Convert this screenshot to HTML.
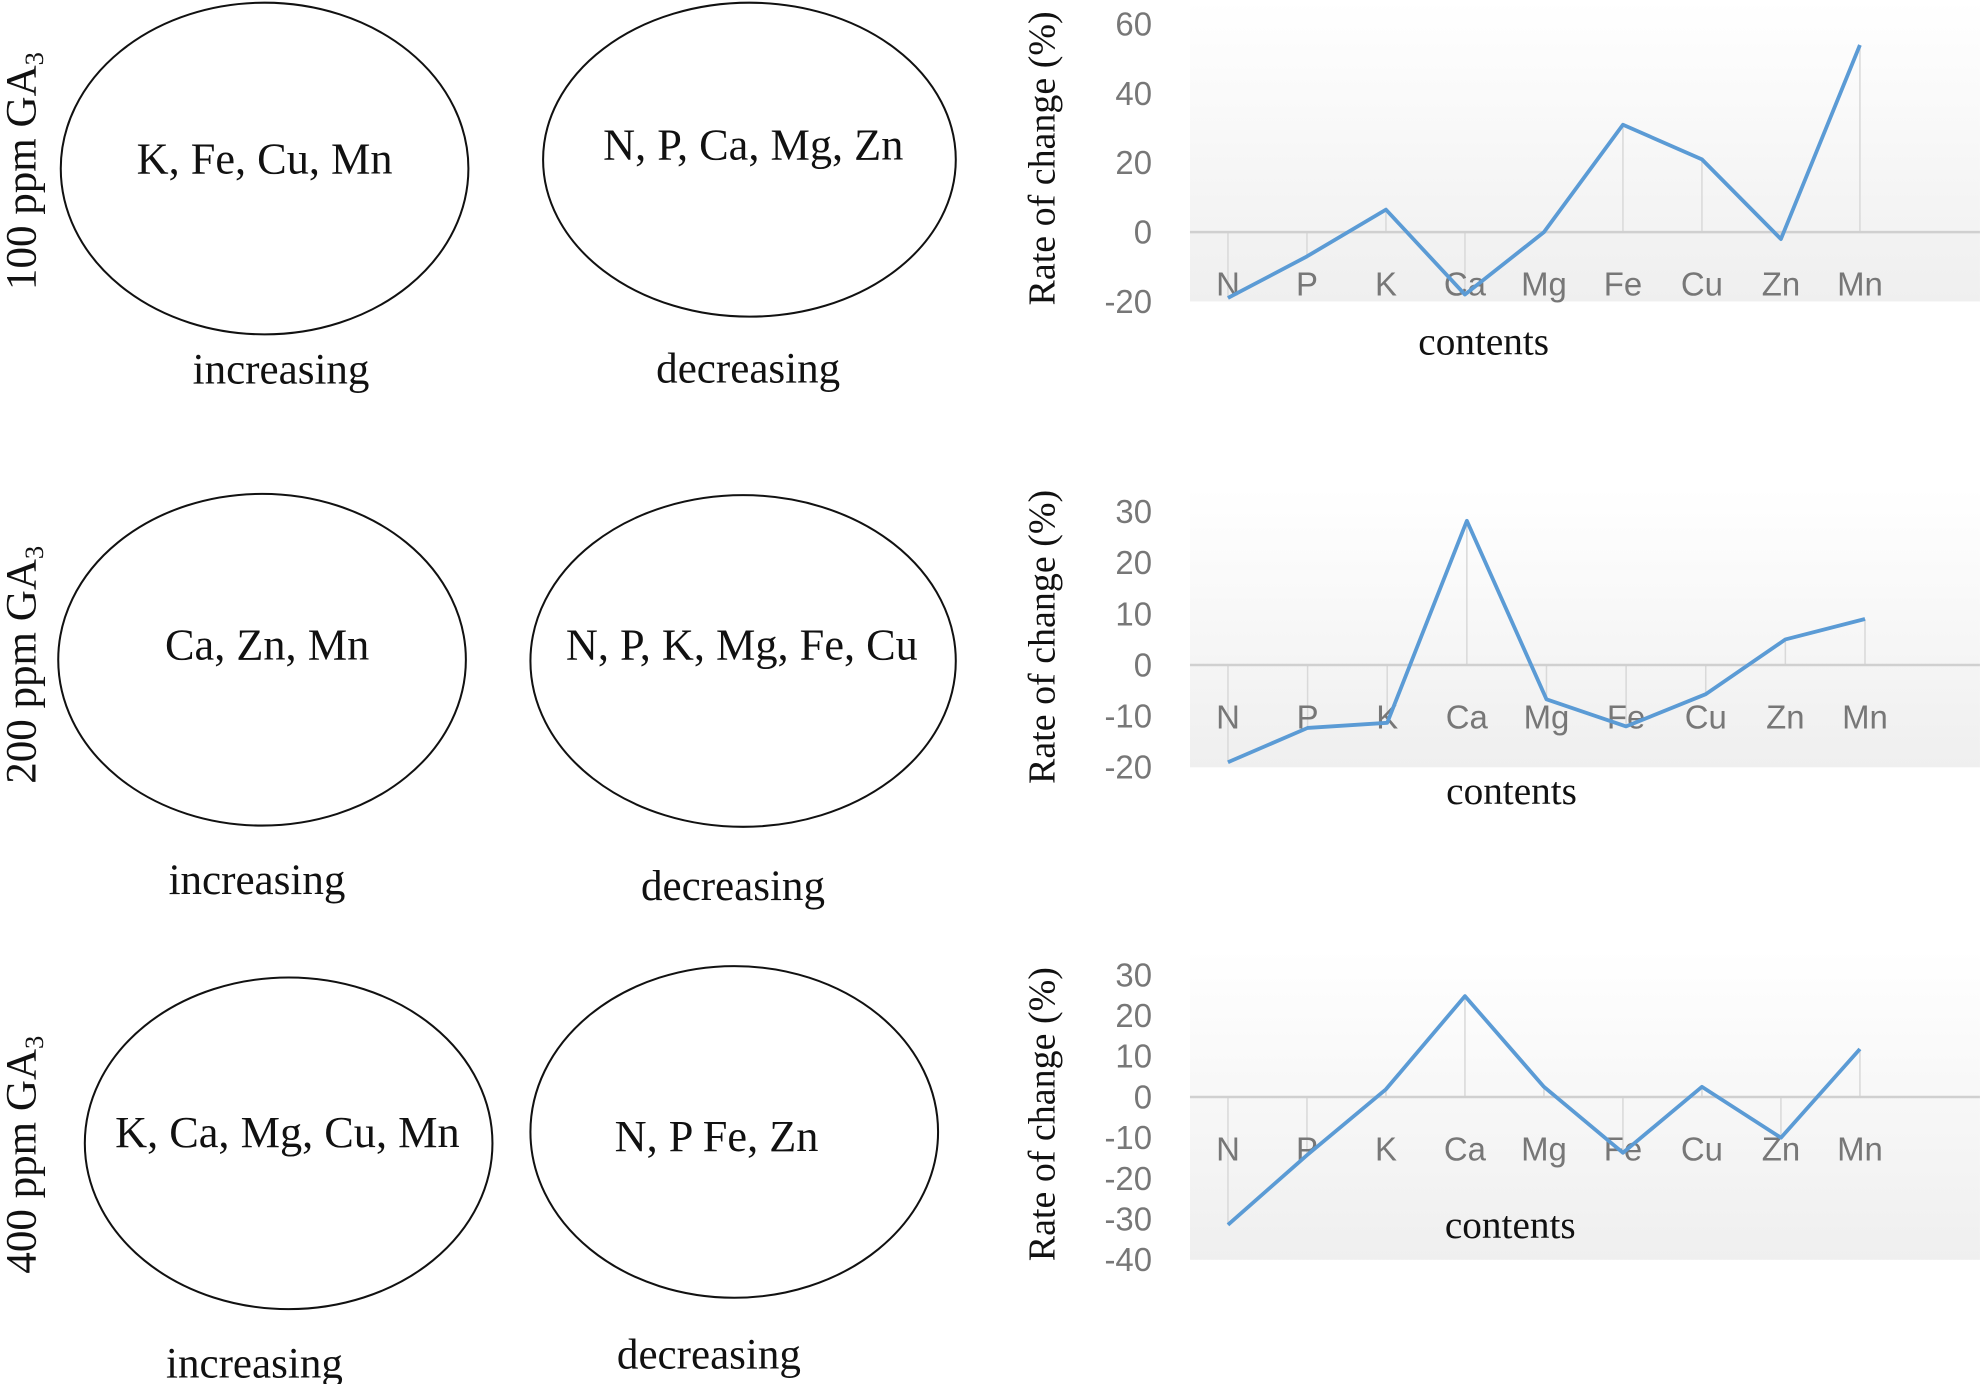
<!DOCTYPE html>
<html><head><meta charset="utf-8"><style>
html,body{margin:0;padding:0;background:#fff;}
svg{display:block;}
.serif{font-family:"Liberation Serif",serif;fill:#111;}
.tick{font-family:"Liberation Sans",sans-serif;fill:#777;font-size:26px;}
</style></head><body>
<svg id="root" width="1985" height="1384" viewBox="0 0 1568 1093" xmlns="http://www.w3.org/2000/svg">
<defs>
<linearGradient id="bg" x1="0" y1="0" x2="0" y2="1">
<stop offset="0" stop-color="#ffffff"/><stop offset="1" stop-color="#efefef"/>
</linearGradient>
</defs>
<g>
<text class="serif" font-size="34" transform="translate(28,135) rotate(-90)" text-anchor="middle">100 ppm GA<tspan font-size="21" dy="6">3</tspan></text>
<ellipse cx="209" cy="133" rx="161" ry="131" fill="none" stroke="#111" stroke-width="1.6"/>
<text class="serif" font-size="35" x="209" y="137" text-anchor="middle">K, Fe, Cu, Mn</text>
<text class="serif" font-size="34" x="222" y="303" text-anchor="middle">increasing</text>
<ellipse cx="592" cy="126" rx="163" ry="124" fill="none" stroke="#111" stroke-width="1.6"/>
<text class="serif" font-size="35" x="595" y="126" text-anchor="middle">N, P, Ca, Mg, Zn</text>
<text class="serif" font-size="34" x="591" y="302" text-anchor="middle">decreasing</text>
</g>
<g>
<text class="serif" font-size="34" transform="translate(28,525) rotate(-90)" text-anchor="middle">200 ppm GA<tspan font-size="21" dy="6">3</tspan></text>
<ellipse cx="207" cy="521" rx="161" ry="131" fill="none" stroke="#111" stroke-width="1.6"/>
<text class="serif" font-size="35" x="211" y="521" text-anchor="middle">Ca, Zn, Mn</text>
<text class="serif" font-size="34" x="203" y="706" text-anchor="middle">increasing</text>
<ellipse cx="587" cy="522" rx="168" ry="131" fill="none" stroke="#111" stroke-width="1.6"/>
<text class="serif" font-size="35" x="586" y="521" text-anchor="middle">N, P, K, Mg, Fe, Cu</text>
<text class="serif" font-size="34" x="579" y="711" text-anchor="middle">decreasing</text>
</g>
<g>
<text class="serif" font-size="34" transform="translate(28,912) rotate(-90)" text-anchor="middle">400 ppm GA<tspan font-size="21" dy="6">3</tspan></text>
<ellipse cx="228" cy="903" rx="161" ry="131" fill="none" stroke="#111" stroke-width="1.6"/>
<text class="serif" font-size="35" x="227" y="906" text-anchor="middle">K, Ca, Mg, Cu, Mn</text>
<text class="serif" font-size="34" x="201" y="1088" text-anchor="middle">increasing</text>
<ellipse cx="580" cy="894" rx="161" ry="131" fill="none" stroke="#111" stroke-width="1.6"/>
<text class="serif" font-size="35" x="566" y="909" text-anchor="middle">N, P Fe, Zn</text>
<text class="serif" font-size="34" x="560" y="1081" text-anchor="middle">decreasing</text>
</g>
<g id="charts"></g>
</svg>
<script>
const categories = ["N","P","K","Ca","Mg","Fe","Cu","Zn","Mn"];
const values100 = [-19, -7, 6.5, -18, 0, 31, 21, -2, 54];
const values200 = [-19, -12.3, -11.3, 28.2, -6.7, -12, -5.7, 5, 9];
const values400 = [-31.4, -14.3, 1.9, 24.8, 2.5, -13.7, 2.5, -10, 11.8];
const ticks100 = [60, 40, 20, 0, -20];
const ticks200 = [30, 20, 10, 0, -10, -20];
const ticks400 = [30, 20, 10, 0, -10, -20, -30, -40];

const NS = "http://www.w3.org/2000/svg";
const root = document.getElementById("charts");
function mk(tag, attrs, parent){const e=document.createElementNS(NS,tag);for(const k in attrs)e.setAttribute(k,attrs[k]);parent.appendChild(e);return e;}

function chart(cfg, vals, ticks, id){
  const g = mk("g",{},root);
  
  
  const max = ticks[0], min = ticks[ticks.length-1];
  const y = v => cfg.top + (max - v) / (max - min) * (cfg.bottom - cfg.top);
  const x = i => cfg.x0 + i * cfg.step;
  const bg = mk("rect",{x:940,y:cfg.bgTop,width:624,height:cfg.bottom-cfg.bgTop,fill:"url(#bg)"},g);
  
  
  ticks.forEach(t=>{
    const tx = mk("text",{x:910,y:y(t)+9,"text-anchor":"end",class:"tick"},g);
    tx.textContent = t;
    
    
  });
  const y0 = y(0);
  vals.forEach((v,i)=>{
    const dl = mk("line",{x1:x(i),x2:x(i),y1:y0,y2:y(v),stroke:"#d9d9d9","stroke-width":1.2},g);
    
    
  });
  const zl = mk("line",{x1:940,x2:1564,y1:y0,y2:y0,stroke:"#d0d0d0","stroke-width":2},g);
  
  
  categories.forEach((c,i)=>{
    const tx = mk("text",{x:x(i),y:y0+cfg.labOff,"text-anchor":"middle",class:"tick"},g);
    tx.textContent = c;
    
    
  });
  const pts = vals.map((v,i)=>x(i)+","+y(v)).join(" ");
  const pl = mk("polyline",{points:pts,fill:"none",stroke:"#5b9bd5","stroke-width":3,"stroke-linejoin":"round"},g);
  
  
  const yt = mk("text",{transform:`translate(833,${cfg.ytY}) rotate(-90)`,"text-anchor":"middle",class:"serif","font-size":30},g);
  yt.textContent = "Rate of change (%)";
  
  
  const xt = mk("text",{x:cfg.xtX,y:cfg.xtY,"text-anchor":"middle",class:"serif","font-size":31},g);
  xt.textContent = "contents";
  
  
}
chart({top:19,bottom:238,bgTop:0,x0:970,step:62.4,labOff:50,ytY:125,xtX:1172,xtY:280},values100,ticks100,"100");
chart({top:404,bottom:606,bgTop:385,x0:970,step:62.9,labOff:50,ytY:503,xtX:1194,xtY:635},values200,ticks200,"200");
chart({top:770,bottom:995,bgTop:750,x0:970,step:62.4,labOff:50,ytY:880,xtX:1193,xtY:978},values400,ticks400,"400");
</script>
</body></html>
